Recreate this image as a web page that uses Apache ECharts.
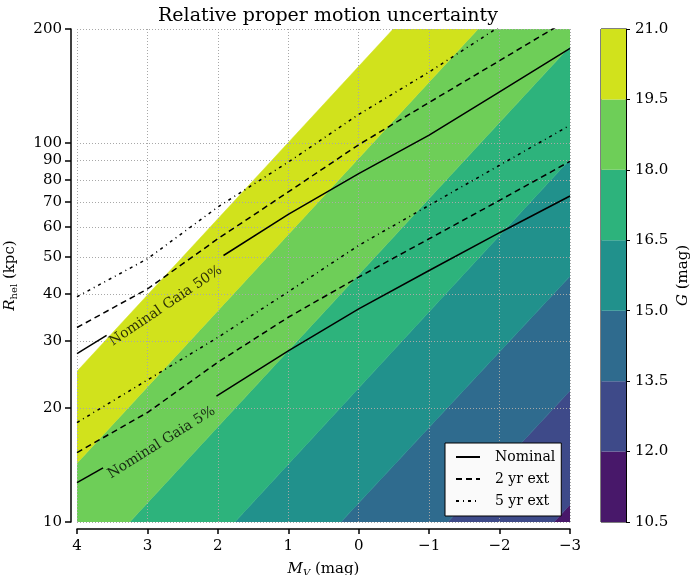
<!DOCTYPE html>
<html>
<head>
<meta charset="utf-8">
<script src="https://cdn.jsdelivr.net/npm/echarts@6/dist/echarts.min.js"></script>
<style>
html, body { margin: 0; padding: 0; background: #fff; }
#main { width: 691px; height: 575px; }
</style>
</head>
<body>
<div id="main"></div>
<script>
// init chart
var myChart = echarts.init(document.getElementById('main'));

var FONT = 'DejaVu Serif';

// colour levels (G mag) and colours of the filled bands
var levels = [10.5, 12, 13.5, 15, 16.5, 18, 19.5, 21];
var bandColors = ['#48186a', '#3e4a89', '#2f6b8e', '#21918c', '#2db37c', '#6ece58', '#d1e21c'];
// each level edge given as R_hel (kpc) at M_V = 4 and at M_V = -3
var edgeAtFaint = [0.22, 0.444, 0.89, 1.79, 3.54, 7.07, 14.3, 25.0];
var edgeAtBright = [5.6, 11.1, 22.2, 44.5, 90.6, 180, 366, 640];

// curves, read at the M_V grid
var mvPoints = [4, 3, 2, 1, 0, -1, -2, -3];
var ext2_50 = [32.6, 41.2, 55.9, 74.3, 99, 128, 165, 213];
var ext5_50 = [39.3, 49.5, 67.8, 89.1, 119, 154, 203, 265];
var ext2_5 = [15.25, 19.45, 26.4, 34.7, 44.3, 55.9, 70.6, 89.5];
var ext5_5 = [18.3, 23.7, 30.7, 40.5, 53.7, 68.5, 87.4, 111.4];
// nominal curves have a gap where the label sits (between index 1 and 2)
var mvNominal50 = [4, 3.58, 1.92, 1, 0, -1, -2, -3];
var rNominal50 = [27.8, 31.1, 50.5, 64.8, 83.1, 104.9, 136.5, 177.8];
var mvNominal5 = [4, 3.63, 2.02, 1, 0, -1, -2, -3];
var rNominal5 = [12.7, 13.9, 21.5, 28.3, 36.5, 46.1, 58, 72.5];

var yTicks = [10, 20, 30, 40, 50, 60, 70, 80, 90, 100, 200];

function pairs(mv, r, from, to) {
    var out = [];
    for (var i = from; i < to; i++) out.push([mv[i], r[i]]);
    return out;
}

// band polygons between consecutive level edges
var bandData = [];
for (var b = 0; b < bandColors.length; b++) bandData.push([4, 10, b]);

function renderBand(params, api) {
    var i = api.value(2);
    var pts = [
        api.coord([4, edgeAtFaint[i]]),
        api.coord([-3, edgeAtBright[i]]),
        api.coord([-3, edgeAtBright[i + 1]]),
        api.coord([4, edgeAtFaint[i + 1]])
    ];
    return {
        type: 'polygon',
        shape: { points: pts },
        style: { fill: bandColors[i], stroke: bandColors[i], lineWidth: 0.5 }
    };
}

var cbData = [];
for (var c = 0; c < bandColors.length; c++) cbData.push([0, levels[c], c]);

function renderBar(params, api) {
    var i = api.value(2);
    var p0 = api.coord([0, levels[i + 1]]);
    var p1 = api.coord([1, levels[i]]);
    return {
        type: 'rect',
        shape: { x: p0[0], y: p0[1], width: p1[0] - p0[0], height: p1[1] - p0[1] },
        style: { fill: bandColors[i] }
    };
}

function minusFmt(v) {
    return v < 0 ? '\u2212' + (-v) : String(v);
}

var gridLine = { show: true, lineStyle: { color: '#a8a8a8', type: [1, 2], width: 1 } };

function curve(name, data, dash) {
    return {
        type: 'line', name: name, data: data, symbol: 'none', showSymbol: false,
        lineStyle: { color: '#000', width: 1.5, type: dash },
        itemStyle: { color: '#000' }, z: 4
    };
}

var option = {
    animation: false,
    textStyle: { fontFamily: FONT },
    title: {
        text: 'Relative proper motion uncertainty',
        left: 323, top: 2, textAlign: 'center',
        textStyle: { fontFamily: FONT, fontSize: 19, fontWeight: 'normal', color: '#000' }
    },
    legend: {
        data: ['Nominal', '2 yr ext', '5 yr ext'],
        orient: 'vertical',
        left: 445, top: 443,
        padding: [7, 6, 8, 10],
        itemWidth: 24, itemHeight: 14, itemGap: 8,
        backgroundColor: '#fafafa',
        borderColor: '#000', borderWidth: 1,
        itemStyle: { opacity: 0, borderWidth: 0 },
        textStyle: { fontFamily: FONT, fontSize: 14, color: '#000', padding: [0, 0, 0, 10] }
    },
    grid: [
        { left: 77, right: 121, top: 29, bottom: 53, outerBoundsMode: 'none', containLabel: false },
        { left: 601, width: 25, top: 29, bottom: 53, outerBoundsMode: 'none', containLabel: false,
          show: true, borderColor: '#000', borderWidth: 1 }
    ],
    xAxis: [{
        type: 'value', gridIndex: 0, min: -3, max: 4, interval: 1, inverse: true,
        offset: 7, z: 2,
        name: '{i|M}{s|V} (mag)', nameLocation: 'middle', nameGap: 32,
        nameTextStyle: {
            fontFamily: FONT, fontSize: 15, color: '#000',
            rich: {
                i: { fontFamily: FONT, fontSize: 15, fontStyle: 'italic', color: '#000' },
                s: { fontFamily: FONT, fontSize: 10, fontStyle: 'italic', color: '#000', padding: [7, 0, 0, 0] }
            }
        },
        axisLine: { show: true, onZero: false, lineStyle: { color: '#000', width: 1.5 } },
        axisTick: { show: true, length: 5, lineStyle: { color: '#000', width: 1.5 } },
        axisLabel: { fontFamily: FONT, fontSize: 15, color: '#000', margin: 10, formatter: minusFmt },
        splitLine: gridLine
    }, {
        type: 'value', gridIndex: 1, min: 0, max: 1, show: false,
        axisLine: { onZero: false }
    }],
    yAxis: [{
        type: 'log', logBase: 10, gridIndex: 0, min: 10, max: 200,
        offset: 6, z: 2,
        name: '{i|R}{s|hel} (kpc)', nameLocation: 'middle', nameGap: 52, nameRotate: 90,
        nameTextStyle: {
            fontFamily: FONT, fontSize: 15, color: '#000',
            rich: {
                i: { fontFamily: FONT, fontSize: 15, fontStyle: 'italic', color: '#000' },
                s: { fontFamily: FONT, fontSize: 10, color: '#000', padding: [7, 0, 0, 0] }
            }
        },
        axisLine: { show: true, onZero: false, lineStyle: { color: '#000', width: 1.5 } },
        axisTick: { show: true, length: 6, customValues: yTicks, lineStyle: { color: '#000', width: 1.5 } },
        axisLabel: { fontFamily: FONT, fontSize: 15, color: '#000', margin: 9, customValues: yTicks },
        splitLine: gridLine,
        minorTick: { show: false }
    }, {
        type: 'value', gridIndex: 1, min: 10.5, max: 21, interval: 1.5, position: 'right', z: 2,
        name: '{i|G} (mag)', nameLocation: 'middle', nameGap: 50, nameRotate: 90,
        nameTextStyle: {
            fontFamily: FONT, fontSize: 15, color: '#000',
            rich: { i: { fontFamily: FONT, fontSize: 15, fontStyle: 'italic', color: '#000' } }
        },
        axisLine: { show: true, onZero: false, lineStyle: { color: '#000', width: 1 } },
        axisTick: { show: true, length: 4, lineStyle: { color: '#000', width: 1 } },
        axisLabel: { fontFamily: FONT, fontSize: 15, color: '#000', margin: 9,
            formatter: function (v) { return v.toFixed(1); } },
        splitLine: { show: false }
    }],
    series: [
        {
            type: 'custom', name: 'bands', xAxisIndex: 0, yAxisIndex: 0,
            data: bandData, encode: { x: 0, y: 1 }, renderItem: renderBand,
            clip: true, silent: true, z: 1
        },
        curve('Nominal', pairs(mvNominal50, rNominal50, 0, 2), 'solid'),
        curve('Nominal', pairs(mvNominal50, rNominal50, 2, 8), 'solid'),
        curve('Nominal', pairs(mvNominal5, rNominal5, 0, 2), 'solid'),
        curve('Nominal', pairs(mvNominal5, rNominal5, 2, 8), 'solid'),
        curve('2 yr ext', pairs(mvPoints, ext2_50, 0, 8), [6, 4]),
        curve('2 yr ext', pairs(mvPoints, ext2_5, 0, 8), [6, 4]),
        curve('5 yr ext', pairs(mvPoints, ext5_50, 0, 8), [3, 4, 1, 4]),
        curve('5 yr ext', pairs(mvPoints, ext5_5, 0, 8), [3, 4, 1, 4]),
        {
            type: 'scatter', name: 'labels', symbolSize: 0, silent: true, z: 5,
            data: [
                { value: [2.74, 37.2], label: { formatter: 'Nominal Gaia 50%', rotate: 34 } },
                { value: [2.80, 16.2], label: { formatter: 'Nominal Gaia 5%', rotate: 32 } }
            ],
            label: { show: true, position: 'inside', fontFamily: FONT, fontSize: 14, color: '#000' }
        },
        {
            type: 'custom', name: 'colorbar', xAxisIndex: 1, yAxisIndex: 1,
            data: cbData, encode: { x: 0, y: 1 }, renderItem: renderBar, silent: true, z: 1
        }
    ]
};

myChart.setOption(option);
</script>
</body>
</html>
